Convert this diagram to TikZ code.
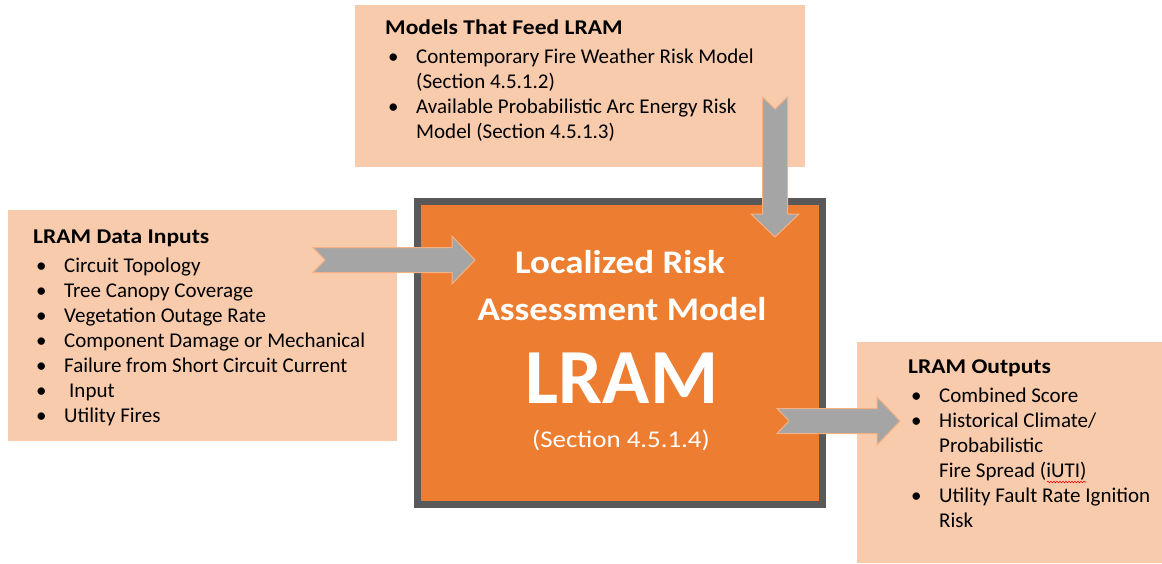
\documentclass[tikz,border=0pt]{standalone}
\usepackage{fontspec}
\setmainfont{Carlito}
\newfontfamily\widebf{Carlito}[FakeStretch=1.12]
\usetikzlibrary{positioning,calc,decorations.pathmorphing}

\definecolor{peach}{HTML}{F8CBAD}
\definecolor{lramorange}{HTML}{ED7D31}
\definecolor{framegray}{HTML}{595959}
\definecolor{arrowgray}{HTML}{A5A5A5}
\definecolor{arrowedge}{HTML}{F4B183}

\newcommand{\bul}{\makebox[31pt][l]{\hspace{3pt}\textbullet}}
\newcommand{\boxtitle}[1]{{\widebf\fontsize{21}{25}\selectfont\bfseries #1}}
% notched block arrow from one coordinate to another
\newcommand{\blockarrow}[2]{%
  \path let \p1=($(#2)-(#1)$) in
    \pgfextra{\pgfmathsetmacro\arrlen{veclen(\x1,\y1)}%
      \pgfmathsetmacro\arrang{atan2(\y1,\x1)}%
      \global\let\arrlen\arrlen\global\let\arrang\arrang};
  \begin{scope}[shift={(#1)},rotate=\arrang]
    \draw[blkarrow] (0,-12.5) -- (\arrlen-23,-12.5) -- (\arrlen-23,-24) -- (\arrlen,0)
      -- (\arrlen-23,24) -- (\arrlen-23,12.5) -- (0,12.5) -- (12,0) -- cycle;
  \end{scope}}

\begin{document}
\begin{tikzpicture}[x=1pt,y=-1pt,
    peachbox/.style={fill=peach,inner sep=0pt},
    listtext/.style={align=left,inner sep=0pt,anchor=north west,font=\fontsize{21}{25}\selectfont},
    whitetext/.style={text=white,inner sep=0pt,anchor=base},
    blkarrow/.style={fill=arrowgray,draw=arrowedge,line width=1pt,line join=miter}]
  \useasboundingbox (0,0) rectangle (1162,563);

  % boxes
  \node[peachbox,minimum width=450pt,minimum height=162pt] (models) at (580,86) {};
  \node[peachbox,minimum width=389pt,minimum height=231pt] (inputs) at (202.5,325.5) {};
  \node[peachbox,minimum width=305pt,minimum height=221pt] (outputs) at (1009.5,452.5) {};
  \node[fill=lramorange,draw=framegray,line width=7pt,minimum width=405pt,minimum height=303pt] (lram) at (620,353) {};

  % box texts
  \node[listtext] (modelsText) at (385,20) {\boxtitle{Models That Feed LRAM}\\[4pt]
    \bul Contemporary Fire Weather Risk Model\\
    \hspace{31pt}(Section 4.5.1.2)\\
    \bul Available Probabilistic Arc Energy Risk\\
    \hspace{31pt}Model (Section 4.5.1.3)};
  \node[listtext] (inputsText) at (33,229.5) {\boxtitle{LRAM Data Inputs}\\[4pt]
    \bul Circuit Topology\\
    \bul Tree Canopy Coverage\\
    \bul Vegetation Outage Rate\\
    \bul Component Damage or Mechanical\\
    \bul Failure from Short Circuit Current\\
    \bul\hspace{5pt}Input\\
    \bul Utility Fires};
  \node[listtext] (outputsText) at (908,359.5) {\boxtitle{LRAM Outputs}\\[4pt]
    \bul Combined Score\\
    \bul Historical Climate/\\
    \hspace{31pt}Probabilistic\\
    \hspace{31pt}Fire Spread (iUTI)\\
    \bul Utility Fault Rate Ignition\\
    \hspace{31pt}Risk};

  % centre texts
  \node[whitetext,font=\widebf\fontsize{33}{35}\selectfont\bfseries] (lramName1) at (620,273) {Localized Risk};
  \node[whitetext,font=\widebf\fontsize{33}{35}\selectfont\bfseries] (lramName2) at (622,320) {Assessment Model};
  \node[whitetext,font=\fontsize{78}{80}\selectfont\bfseries] (lramAbbr) at (622,403) {LRAM};
  \node[whitetext,font=\widebf\fontsize{24}{26}\selectfont] (lramSec) at (621,447) {(Section 4.5.1.4)};

  % spelling mark
  \coordinate (markA) at (1047,482);
  \coordinate (markB) at (1086,482);
  \draw[red,line width=0.6pt,decorate,decoration={snake,amplitude=0.8pt,segment length=3pt}] (markA) -- (markB);

  % arrows
  \coordinate (inTail) at (313,260);
  \coordinate (inTip) at (475,260);
  \coordinate (feedTail) at (775,97);
  \coordinate (feedTip) at (775,237);
  \coordinate (outTail) at (777,421);
  \coordinate (outTip) at (900,421);
  \blockarrow{inTail}{inTip}
  \blockarrow{feedTail}{feedTip}
  \blockarrow{outTail}{outTip}
\end{tikzpicture}
\end{document}
